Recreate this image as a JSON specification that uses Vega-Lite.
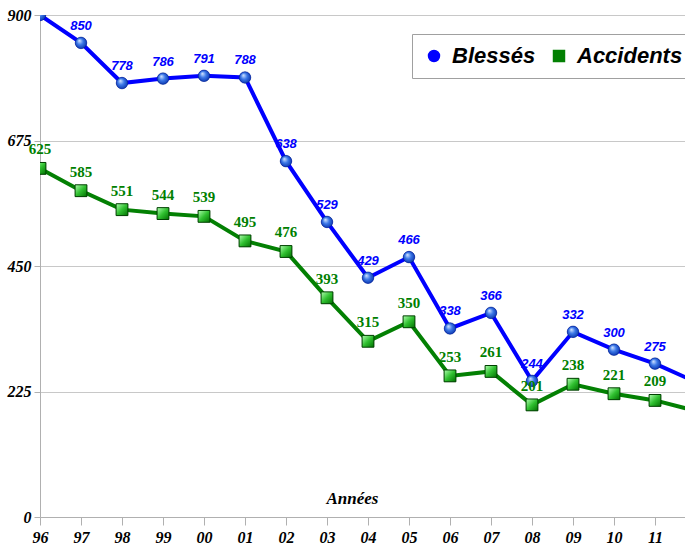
{
  "$schema": "https://vega.github.io/schema/vega-lite/v6.json",
  "width": 656,
  "height": 502,
  "autosize": {"type": "none"},
  "padding": {"left": 40, "top": 15, "right": 0, "bottom": 32},
  "background": "white",
  "config": {"view": {"stroke": null}},
  "data": {"values": [
    {"year": "96", "serie": "Blessés", "value": 900},
    {"year": "97", "serie": "Blessés", "value": 850},
    {"year": "98", "serie": "Blessés", "value": 778},
    {"year": "99", "serie": "Blessés", "value": 786},
    {"year": "00", "serie": "Blessés", "value": 791},
    {"year": "01", "serie": "Blessés", "value": 788},
    {"year": "02", "serie": "Blessés", "value": 638},
    {"year": "03", "serie": "Blessés", "value": 529},
    {"year": "04", "serie": "Blessés", "value": 429},
    {"year": "05", "serie": "Blessés", "value": 466},
    {"year": "06", "serie": "Blessés", "value": 338},
    {"year": "07", "serie": "Blessés", "value": 366},
    {"year": "08", "serie": "Blessés", "value": 244},
    {"year": "09", "serie": "Blessés", "value": 332},
    {"year": "10", "serie": "Blessés", "value": 300},
    {"year": "11", "serie": "Blessés", "value": 275},
    {"year": "12", "serie": "Blessés", "value": 242},
    {"year": "96", "serie": "Accidents", "value": 625},
    {"year": "97", "serie": "Accidents", "value": 585},
    {"year": "98", "serie": "Accidents", "value": 551},
    {"year": "99", "serie": "Accidents", "value": 544},
    {"year": "00", "serie": "Accidents", "value": 539},
    {"year": "01", "serie": "Accidents", "value": 495},
    {"year": "02", "serie": "Accidents", "value": 476},
    {"year": "03", "serie": "Accidents", "value": 393},
    {"year": "04", "serie": "Accidents", "value": 315},
    {"year": "05", "serie": "Accidents", "value": 350},
    {"year": "06", "serie": "Accidents", "value": 253},
    {"year": "07", "serie": "Accidents", "value": 261},
    {"year": "08", "serie": "Accidents", "value": 201},
    {"year": "09", "serie": "Accidents", "value": 238},
    {"year": "10", "serie": "Accidents", "value": 221},
    {"year": "11", "serie": "Accidents", "value": 209},
    {"year": "12", "serie": "Accidents", "value": 190}
  ]},
  "encoding": {
    "x": {
      "field": "year", "type": "ordinal",
      "scale": {"type": "point", "padding": 0, "domain": ["96","97","98","99","00","01","02","03","04","05","06","07","08","09","10","11","12"]},
      "axis": {
        "title": "Années", "titleFont": "Liberation Serif", "titleFontStyle": "italic", "titleFontWeight": "bold", "titleFontSize": 17,
        "titleColor": "black", "titleX": 312, "titleY": -27, "titleAlign": "center", "titleBaseline": "top",
        "labelExpr": "datum.value === '12' ? '' : datum.label",
        "labelAngle": 0, "labelFont": "Liberation Serif", "labelFontStyle": "italic", "labelFontWeight": "bold", "labelFontSize": 16,
        "labelColor": "black", "labelPadding": 4, "tickSize": 8, "tickColor": "#b0b0b0", "domainColor": "#b0b0b0", "grid": false
      }
    },
    "y": {
      "field": "value", "type": "quantitative",
      "scale": {"domain": [0, 900], "nice": false, "zero": true},
      "axis": {
        "title": null, "values": [0, 225, 450, 675, 900], "grid": true, "gridColor": "#c8c8c8",
        "labelFont": "Liberation Serif", "labelFontStyle": "italic", "labelFontWeight": "bold", "labelFontSize": 16,
        "labelColor": "black", "labelPadding": 3, "tickSize": 6, "tickColor": "#b0b0b0", "domainColor": "#b0b0b0"
      }
    }
  },
  "layer": [
    {
      "mark": {"type": "line", "strokeWidth": 4, "clip": true},
      "encoding": {
        "color": {"field": "serie", "type": "nominal", "scale": {"domain": ["Blessés", "Accidents"], "range": ["#0000ff", "#038003"]}}
      }
    },
    {
      "mark": {"type": "point", "filled": true, "size": 130, "opacity": 1, "clip": true},
      "encoding": {
        "color": {"field": "serie", "type": "nominal", "scale": {"domain": ["Blessés", "Accidents"], "range": ["#0000ff", "#038003"]},
          "legend": {
            "orient": "none", "legendX": 372, "legendY": 19, "direction": "horizontal", "title": null,
            "fillColor": "white", "strokeColor": "#a0a0a0", "padding": 11,
            "labelFont": "Liberation Sans", "labelFontStyle": "italic", "labelFontWeight": "bold", "labelFontSize": 22, "labelColor": "black",
            "symbolSize": 120, "symbolOpacity": 1, "columnPadding": 12, "labelOffset": 7, "labelLimit": 200
          }},
        "shape": {"field": "serie", "type": "nominal", "scale": {"domain": ["Blessés", "Accidents"], "range": ["circle", "square"]}}
      }
    },
    {
      "transform": [{"filter": "datum.serie === 'Blessés'"}],
      "mark": {"type": "point", "shape": "circle", "size": 135, "clip": true, "strokeWidth": 0.5, "stroke": "#002080",
        "fill": {"gradient": "radial", "x1": 0.35, "y1": 0.3, "r1": 0, "x2": 0.5, "y2": 0.5, "r2": 0.6,
          "stops": [{"offset": 0, "color": "#d8e8ff"}, {"offset": 0.45, "color": "#3c78e8"}, {"offset": 1, "color": "#0028a0"}]},
        "fillOpacity": 1}
    },
    {
      "transform": [{"filter": "datum.serie === 'Accidents'"}],
      "mark": {"type": "point", "shape": "square", "size": 140, "clip": true, "strokeWidth": 1, "stroke": "#004000",
        "fill": {"gradient": "linear", "x1": 0, "y1": 0, "x2": 1, "y2": 1,
          "stops": [{"offset": 0, "color": "#b0ffb0"}, {"offset": 0.5, "color": "#30c030"}, {"offset": 1, "color": "#007000"}]},
        "fillOpacity": 1}
    },
    {
      "transform": [{"filter": "datum.serie === 'Blessés' && datum.year !== '96' && datum.year !== '12'"}],
      "mark": {"type": "text", "dy": -17, "font": "Liberation Sans", "fontStyle": "italic", "fontWeight": "bold", "fontSize": 13, "color": "#0000ff"},
      "encoding": {"text": {"field": "value", "type": "quantitative"}}
    },
    {
      "transform": [{"filter": "datum.serie === 'Accidents' && datum.year !== '12'"}],
      "mark": {"type": "text", "dy": -19, "font": "Liberation Serif", "fontWeight": "bold", "fontSize": 15, "color": "#008000"},
      "encoding": {"text": {"field": "value", "type": "quantitative"}}
    }
  ]
}
